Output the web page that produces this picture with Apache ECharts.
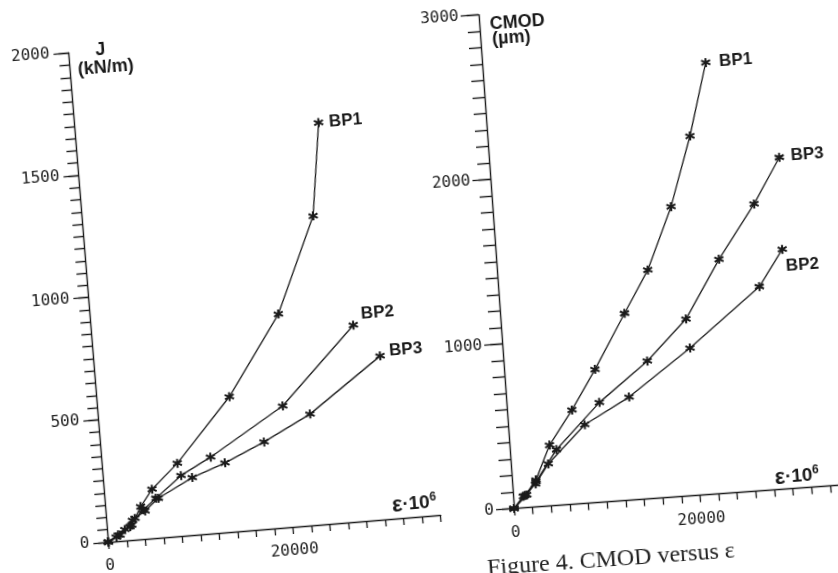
<!DOCTYPE html>
<html>
<head>
<meta charset="utf-8">
<script src="https://cdn.jsdelivr.net/npm/echarts@6/dist/echarts.min.js"></script>
<style>
html,body{margin:0;padding:0;width:838px;height:573px;overflow:hidden;background:#ffffff}
#left,#right{position:absolute;top:0;height:620px}
#left{left:0;width:470px;transform-origin:108.3px 542px;transform:rotate(-4.65deg)}
#right{left:420px;width:440px;transform-origin:94px 508.5px;transform:rotate(-4.1deg)}
</style>
</head>
<body>
<div id="left"></div>
<div id="right"></div>
<script>
// ---------- Data (strain ε·10^6 on x) ----------
// Left panel: J (kN/m) versus ε
const jBP1_x = [0, 1130, 2670, 3800, 5170, 8120, 14300, 20300, 24900, 26300];
const jBP1_y = [0, 25, 61, 133, 200, 297, 550, 870, 1257, 1634];
const jBP2_x = [0, 1320, 2470, 3080, 4050, 5510, 8410, 11750, 19960, 28270];
const jBP2_y = [0, 24, 55, 87, 119, 162, 246, 311, 495, 800];
const jBP3_x = [0, 900, 1900, 2800, 4220, 5760, 9600, 13250, 17640, 22830, 30880];
const jBP3_y = [0, 18, 45, 80, 114, 161, 234, 283, 355, 453, 666];
// Right panel: CMOD (µm) versus ε
const cBP1_x = [0, 1280, 2570, 4290, 6960, 9740, 13330, 16150, 19120, 21690, 23940];
const cBP1_y = [0, 74, 163, 368, 570, 806, 1132, 1384, 1757, 2176, 2613];
const cBP2_x = [0, 1090, 2490, 4010, 8210, 13170, 20070, 27960, 30700];
const cBP2_y = [0, 70, 139, 255, 476, 624, 894, 1235, 1451];
const cBP3_x = [0, 1470, 2560, 5000, 9950, 15400, 19860, 23850, 28030, 31090];
const cBP3_y = [0, 76, 152, 338, 604, 834, 1071, 1418, 1737, 2008];

const xLabelsShown = [0, 20000];
const jTicks = {min: 0, max: 2000, interval: 500, minor: 50};
const cTicks = {min: 0, max: 3000, interval: 1000, minor: 100};
const xTicks = {min: 0, max: 36000, interval: 2000};

// ---------- Styling ----------
const INK = '#1a1a1a';
const TICKFONT = {fontFamily: 'DejaVu Sans Mono', fontSize: 16, color: '#222'};
const BOLD = 'Liberation Sans';
const ASTER = 'path://M0,-10L0,10M-8.66,-5L8.66,5M-8.66,5L8.66,-5';

function mkSeries(name, xs, ys, lab) {
  const data = xs.map((x, i) => [x, ys[i]]);
  const last = data.length - 1;
  data[last] = {value: data[last], label: Object.assign({
    show: true, formatter: name, fontFamily: BOLD, fontWeight: 'bold',
    fontSize: 17, color: INK, position: 'right'
  }, lab)};
  return {
    type: 'line', name: name, data: data, symbol: ASTER, symbolSize: 9,
    showAllSymbol: true, lineStyle: {color: INK, width: 1.3},
    itemStyle: {color: INK, borderColor: INK, borderWidth: 2},
    emphasis: {disabled: true}, animation: false, z: 3
  };
}

function xAxisOpt() {
  return {
    type: 'value', min: xTicks.min, max: xTicks.max, interval: xTicks.interval,
    axisLine: {lineStyle: {color: INK, width: 1.4}},
    axisTick: {length: 7, lineStyle: {color: INK, width: 1.3}},
    axisLabel: Object.assign({margin: 16, showMinLabel: true,
      formatter: v => xLabelsShown.indexOf(v) >= 0 ? String(v) : ''}, TICKFONT),
    splitLine: {show: false}
  };
}

// two overlaid y axes: major (long ticks + labels) and minor (short ticks)
function yAxesOpt(t, major, minor, margin) {
  return [{
    type: 'value', position: 'left', min: t.min, max: t.max, interval: t.interval,
    axisLine: {show: true, lineStyle: {color: INK, width: 1.4}},
    axisTick: {show: true, length: major, lineStyle: {color: INK, width: 1.3}},
    axisLabel: Object.assign({margin: margin, showMinLabel: true, showMaxLabel: true,
      formatter: v => String(v)}, TICKFONT),
    splitLine: {show: false}
  }, {
    type: 'value', position: 'left', offset: 0, min: t.min, max: t.max, interval: t.minor,
    axisLine: {show: false},
    axisTick: {show: true, length: minor, lineStyle: {color: INK, width: 1.4}},
    axisLabel: {show: false},
    splitLine: {show: false}
  }];
}

function epsLabel(cx, cy) {
  return {
    type: 'text', x: cx, y: cy, z: 10,
    style: {
      text: '{e|ε}{d|·10}{s|6}', align: 'center', verticalAlign: 'middle', fill: INK,
      rich: {
        e: {fontFamily: BOLD, fontWeight: 'bold', fontSize: 22, fill: INK},
        d: {fontFamily: BOLD, fontWeight: 'bold', fontSize: 19, fill: INK},
        s: {fontFamily: BOLD, fontWeight: 'bold', fontSize: 12, fill: INK, verticalAlign: 'top', padding: [0, 0, 8, 0]}
      }
    }
  };
}
function nameText(txt, cx, cy, size) {
  return {type: 'text', x: cx, y: cy, z: 10,
    style: {text: txt, align: 'center', verticalAlign: 'middle', fill: INK,
      fontFamily: BOLD, fontWeight: 'bold', fontSize: size || 18}};
}

// ---------- Left chart ----------
const GL = {left: 108.3, top: 51.3, width: 333.4, height: 490.7};
const ox1 = GL.left, oy1 = GL.top + GL.height;
const left = echarts.init(document.getElementById('left'), null, {renderer: 'canvas'});
left.setOption({
  animation: false, backgroundColor: 'transparent',
  grid: GL,
  xAxis: xAxisOpt(),
  yAxis: yAxesOpt(jTicks, 15, 10, 19),
  series: [
    mkSeries('BP1', jBP1_x, jBP1_y, {distance: 5}),
    mkSeries('BP2', jBP2_x, jBP2_y, {distance: 3, offset: [0, -10]}),
    mkSeries('BP3', jBP3_x, jBP3_y, {distance: 4, offset: [0, -4]})
  ],
  graphic: [
    nameText('J', ox1 + 32, GL.top),
    nameText('(kN/m)', ox1 + 36, GL.top + 17.5),
    epsLabel(ox1 + 308, oy1 - 13)
  ]
});

// ---------- Right chart ----------
const GR = {left: 94, top: 13.6, width: 335.5, height: 494.9};
const ox2 = GR.left, oy2 = GR.top + GR.height;
const right = echarts.init(document.getElementById('right'), null, {renderer: 'canvas'});
right.setOption({
  animation: false, backgroundColor: 'transparent',
  grid: GR,
  xAxis: xAxisOpt(),
  yAxis: yAxesOpt(cTicks, 18, 12, 20),
  series: [
    mkSeries('BP1', cBP1_x, cBP1_y, {distance: 8}),
    mkSeries('BP2', cBP2_x, cBP2_y, {distance: 0, offset: [-3, 17]}),
    mkSeries('BP3', cBP3_x, cBP3_y, {distance: 6, offset: [0, -1]})
  ],
  graphic: [
    nameText('CMOD', ox2 + 38, GR.top + 10),
    nameText('(µm)', ox2 + 31, GR.top + 25.5),
    epsLabel(ox2 + 284.5, oy2 - 12),
    {type: 'text', x: ox2 - 31, y: oy2 + 46, z: 10,
      style: {text: 'Figure 4. CMOD versus ε', fill: '#222', align: 'left', verticalAlign: 'top',
        fontFamily: 'Liberation Serif', fontSize: 24}}
  ]
});
</script>
</body>
</html>
